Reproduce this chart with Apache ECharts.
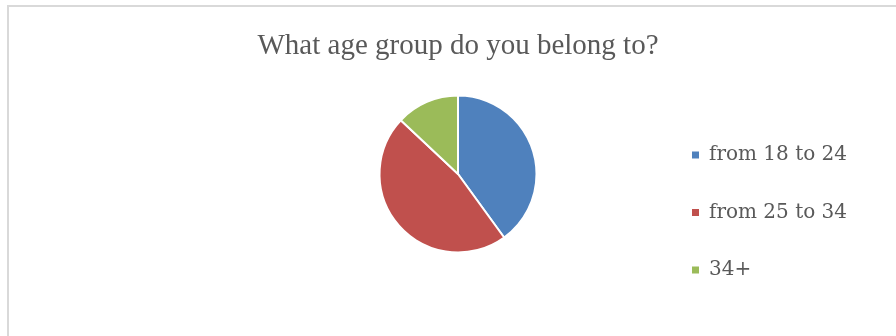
<!DOCTYPE html>
<html><head><meta charset="utf-8">
<script src="https://cdn.jsdelivr.net/npm/echarts@6/dist/echarts.min.js"></script>
<style>html,body{margin:0;padding:0;background:#fff}#c{width:896px;height:336px}</style>
</head><body><div id="c"></div>
<script>
const categories = ['from 18 to 24', 'from 25 to 34', '34+'];
const values = [40, 47, 13];
const colors = ['#4f81bd', '#c0504d', '#9bbb59'];

const chart = echarts.init(document.getElementById('c'), null, {renderer: 'canvas'});
chart.setOption({
  animation: false,
  backgroundColor: '#ffffff',
  title: {
    text: 'What age group do you belong to?',
    left: 458, top: 32, textAlign: 'center', padding: 0,
    textStyle: {fontFamily: 'Liberation Serif', fontSize: 29, fontWeight: 'normal', color: '#595959'}
  },
  graphic: [{
    type: 'rect', silent: true, z: -1,
    shape: {x: 8, y: 6, width: 1000, height: 500},
    style: {fill: 'none', stroke: '#d9d9d9', lineWidth: 2}
  }],
  legend: {
    orient: 'vertical', left: 692, top: 145, padding: 0,
    itemWidth: 7, itemHeight: 7, itemGap: 37.5,
    icon: 'rect',
    itemStyle: {borderWidth: 0},
    data: categories,
    textStyle: {fontFamily: 'DejaVu Serif', fontSize: 20, color: '#595959', padding: [0, 0, 0, 5]}
  },
  series: [{
    type: 'pie',
    center: [458, 174], radius: 78.5,
    startAngle: 90, clockwise: true,
    label: {show: false}, labelLine: {show: false},
    itemStyle: {borderColor: '#ffffff', borderWidth: 2},
    emphasis: {disabled: true},
    data: categories.map((n, i) => ({name: n, value: values[i], itemStyle: {color: colors[i]}}))
  }]
});
</script></body></html>
